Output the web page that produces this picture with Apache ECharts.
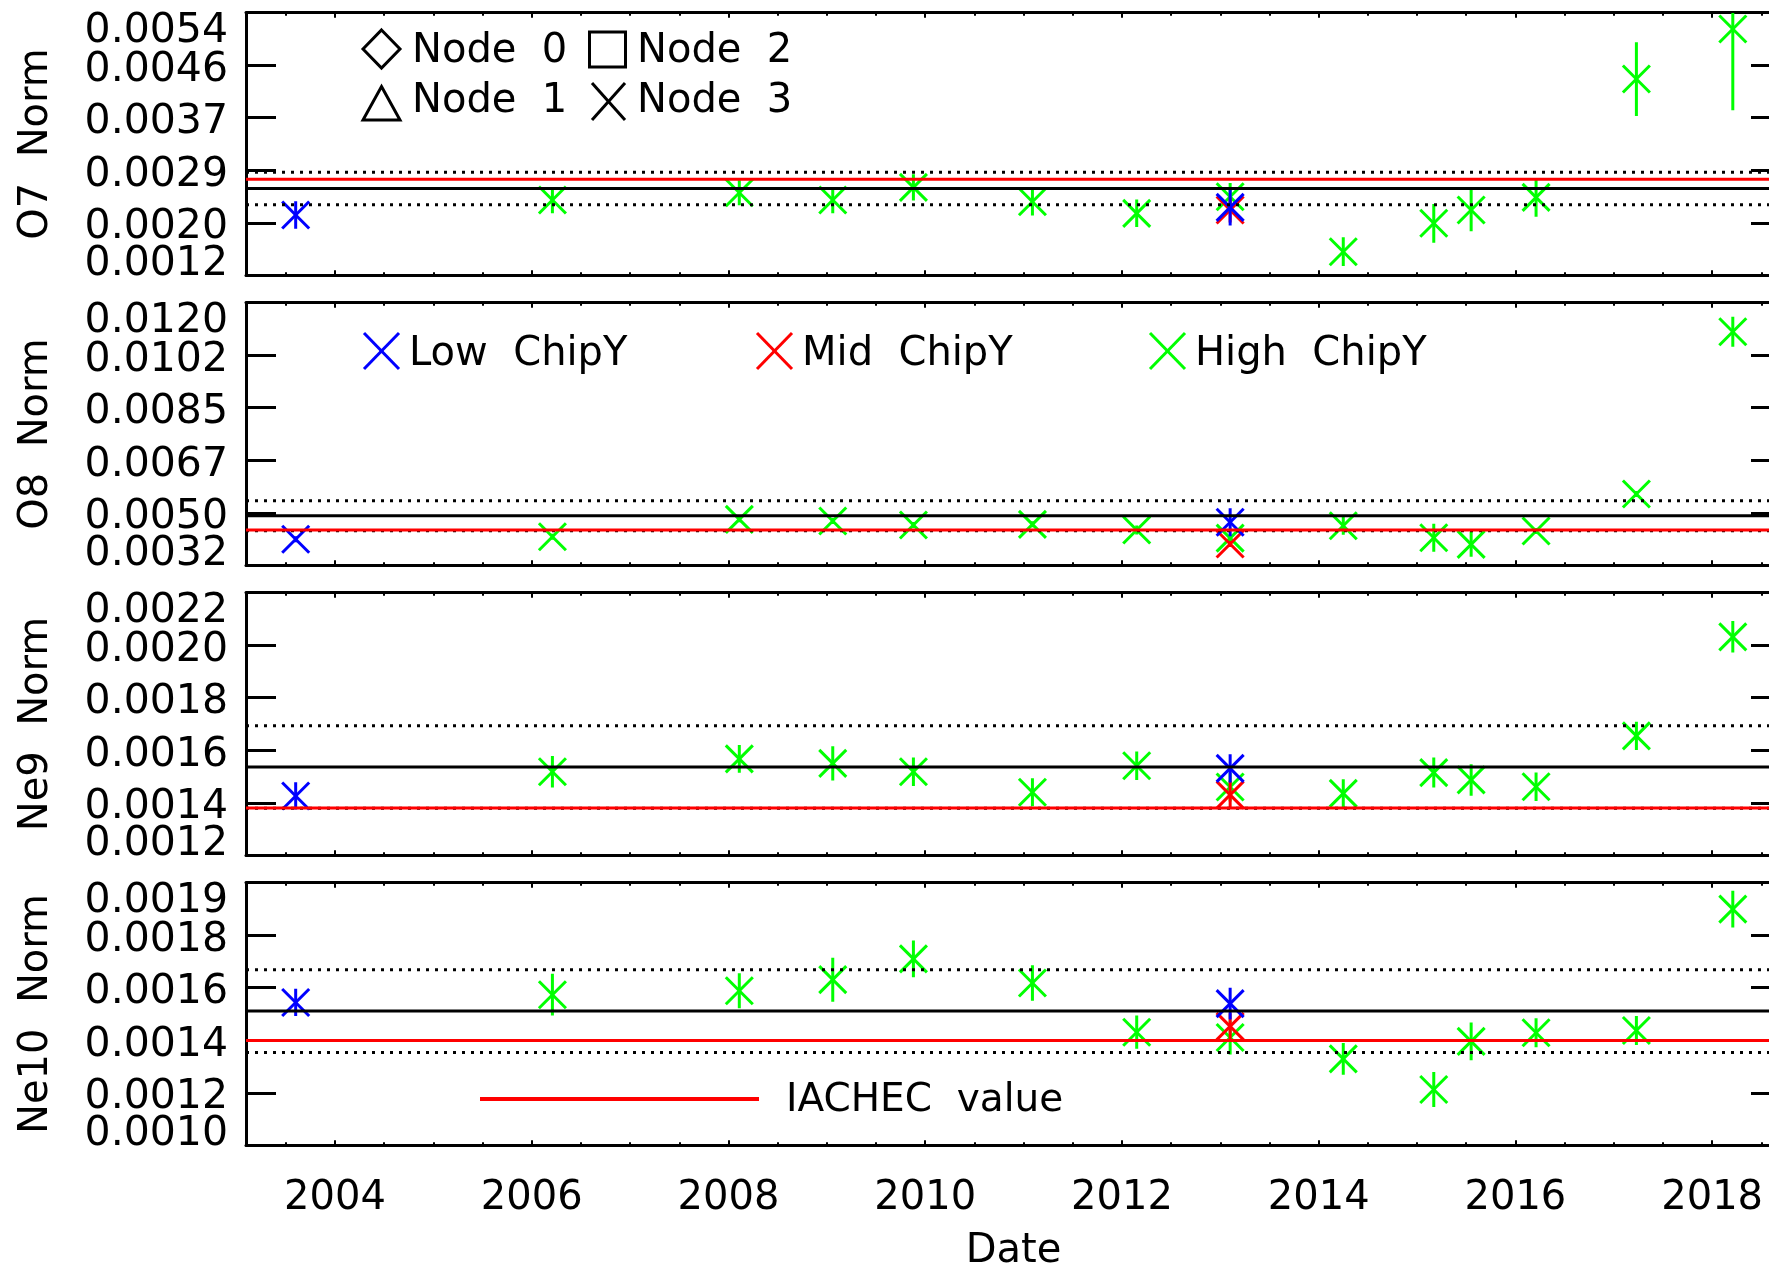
<!DOCTYPE html>
<html>
<head>
<meta charset="utf-8">
<script src="https://cdn.jsdelivr.net/npm/echarts@6/dist/echarts.min.js"></script>
<style>
  html, body { margin: 0; padding: 0; background: #fff; }
  #chart { width: 1769px; height: 1266px; }
</style>
</head>
<body>
<div id="chart"></div>
<script>
// ---- Observation dates (decimal years) per ChipY group ----
const lowDates  = [2003.60, 2013.10];
const midDates  = [2013.10];
const highDates = [2006.21, 2008.11, 2009.06, 2009.88, 2011.09, 2012.15, 2013.10,
                   2014.25, 2015.17, 2015.55, 2016.21, 2017.23, 2018.21];

// ---- Line normalisations and 1-sigma errors ----
// O7
const o7Low      = [0.002164, 0.002287];
const o7LowErr   = [0.00022, 0.00029];
const o7Mid      = [0.002244];
const o7MidErr   = [0.0002];
const o7High     = [0.002404, 0.002521, 0.002404, 0.002607, 0.002377, 0.002191, 0.002457,
                    0.001577, 0.002032, 0.002244, 0.002447, 0.004339, 0.005139];
const o7HighErr  = [0.00021, 0.0002, 0.00021, 0.00021, 0.00022, 0.00022, 0.00022,
                    0.00023, 0.00031, 0.00034, 0.00031, 0.00059, 0.0013];
// O8
const o8Low      = [0.004071, 0.004641];
const o8LowErr   = [0.0001, 0.00047];
const o8Mid      = [0.003914];
const o8MidErr   = [0.0001];
const o8High     = [0.004158, 0.004741, 0.004684, 0.00455, 0.004572, 0.004382, 0.00411,
                    0.004527, 0.004125, 0.003903, 0.004349, 0.005589, 0.011028];
const o8HighErr  = [0.0001, 0.0001, 0.0001, 0.0001, 0.0001, 0.00015, 0.0001,
                    0.0003, 0.00047, 0.00042, 0.0001, 0.0001, 0.0005];
// Ne9
const ne9Low     = [0.001426, 0.001531];
const ne9LowErr  = [0.000052, 0.000054];
const ne9Mid     = [0.00143];
const ne9MidErr  = [0.000054];
const ne9High    = [0.001518, 0.001567, 0.00155, 0.001518, 0.00144, 0.001541, 0.00146,
                    0.001436, 0.001515, 0.001487, 0.001461, 0.001655, 0.002032];
const ne9HighErr = [0.00006, 0.000053, 0.000065, 0.000054, 0.000053, 0.000054, 0.000055,
                    0.000054, 0.000057, 0.00006, 0.000054, 0.000054, 0.00006];
// Ne10
const ne10Low     = [0.00151, 0.001506];
const ne10LowErr  = [0.000049, 0.000057];
const ne10Mid     = [0.001424];
const ne10MidErr  = [0.000047];
const ne10High    = [0.001538, 0.001552, 0.001592, 0.001667, 0.00158, 0.001403, 0.001384,
                     0.001307, 0.001197, 0.00137, 0.001401, 0.001409, 0.001846];
const ne10HighErr = [0.000075, 0.000063, 0.000079, 0.000066, 0.000064, 0.00006, 0.000061,
                     0.000057, 0.000063, 0.000068, 0.000052, 0.000052, 0.000066];

// ---- Reference levels per panel: weighted mean, spread, IACHEC value ----
const meanNorm   = [0.002588, 0.004862, 0.001536, 0.001479];
const spreadNorm = [0.000259, 0.000503, 0.000157, 0.000149];
const iachecNorm = [0.002735, 0.004382, 0.00138, 0.001373];

// ---- Axis settings ----
const panelNames = ['O7  Norm', 'O8  Norm', 'Ne9  Norm', 'Ne10  Norm'];
const yMin  = [0.0012, 0.0032, 0.0012, 0.000996];
const yMax  = [0.0054, 0.0120, 0.0022, 0.001941];
const yStep = [0.00084, 0.00176, 0.0002, 0.000189];
const dateMin = 2003.095;
const dateMax = 2018.70;

const panels = [
  { low: [o7Low, o7LowErr],   mid: [o7Mid, o7MidErr],   high: [o7High, o7HighErr] },
  { low: [o8Low, o8LowErr],   mid: [o8Mid, o8MidErr],   high: [o8High, o8HighErr] },
  { low: [ne9Low, ne9LowErr], mid: [ne9Mid, ne9MidErr], high: [ne9High, ne9HighErr] },
  { low: [ne10Low, ne10LowErr], mid: [ne10Mid, ne10MidErr], high: [ne10High, ne10HighErr] }
];

const FONT = 'DejaVu Sans';
const BLUE = '#0000ff', RED = '#ff0000', GREEN = '#00ff00', BLACK = '#000000';
const gridTops = [12.7, 302.7, 592.7, 882.7];
const gridH = 262.6;

function toPoints(dates, pair) {
  return dates.map((d, i) => [d, pair[0][i], pair[1][i]]);
}

// X marker with a vertical error bar, clipped to the plot frame
function crossRenderer(color) {
  return function (params, api) {
    const x = api.value(0), y = api.value(1), e = api.value(2);
    const c = api.coord([x, y]);
    const up = api.coord([x, y + e]);
    const dn = api.coord([x, y - e]);
    const cs = params.coordSys;
    const y0 = Math.max(cs.y, up[1]);
    const y1 = Math.min(cs.y + cs.height, dn[1]);
    const h = 13.5;
    const st = { stroke: color, lineWidth: 3 };
    return {
      type: 'group',
      children: [
        { type: 'line', shape: { x1: c[0] - h, y1: c[1] - h, x2: c[0] + h, y2: c[1] + h }, style: st },
        { type: 'line', shape: { x1: c[0] - h, y1: c[1] + h, x2: c[0] + h, y2: c[1] - h }, style: st },
        { type: 'line', shape: { x1: c[0], y1: y0, x2: c[0], y2: y1 }, style: st }
      ]
    };
  };
}

// End-of-range labels are pulled inside the frame
function endLabelFormatter(min, max) {
  return function (v) {
    const s = v.toFixed(4);
    if (Math.abs(v - max) < 1e-9) return '{hi|' + s + '}';
    return '{lo|' + s + '}';
  };
}

const labelBase = { fontFamily: FONT, fontSize: 41, color: BLACK };

const grid = [], xAxis = [], yAxis = [], series = [];

panels.forEach((p, i) => {
  grid.push({ left: 246, top: gridTops[i], width: 1535, height: gridH, outerBoundsMode: 'none' });

  const isLast = i === panels.length - 1;
  const xCommon = {
    type: 'value', gridIndex: i, min: dateMin, max: dateMax, splitNumber: 8,
    axisLine: { show: true, onZero: false, lineStyle: { color: BLACK, width: 3 } },
    axisTick: { show: true, inside: true, length: 5, lineStyle: { color: BLACK, width: 2 } },
    minorTick: { show: true, splitNumber: 4, length: 3, lineStyle: { color: BLACK, width: 2 } },
    splitLine: { show: false }, minorSplitLine: { show: false }
  };
  xAxis.push(Object.assign({}, xCommon, {
    position: 'bottom',
    axisLabel: {
      show: isLast, fontFamily: FONT, fontSize: 40, color: BLACK, margin: 33,
      showMinLabel: false, showMaxLabel: false,
      formatter: v => (Number.isInteger(v) ? String(v) : '')
    },
    name: isLast ? 'Date' : '', nameLocation: 'middle', nameGap: 86, nameMoveOverlap: false,
    nameTextStyle: { fontFamily: FONT, fontSize: 40, color: BLACK }
  }));
  xAxis.push(Object.assign({}, xCommon, { position: 'top', axisLabel: { show: false } }));

  const yCommon = {
    type: 'value', gridIndex: i, min: yMin[i], max: yMax[i], interval: yStep[i],
    axisLine: { show: true, onZero: false, lineStyle: { color: BLACK, width: 3 } },
    axisTick: { show: true, inside: true, length: 30, lineStyle: { color: BLACK, width: 3 } },
    splitLine: { show: false }
  };
  // left frame with inner tick labels
  yAxis.push(Object.assign({}, yCommon, {
    position: 'left',
    axisLabel: {
      show: true, margin: 18, showMinLabel: false, showMaxLabel: false,
      formatter: v => '{md|' + v.toFixed(4) + '}',
      rich: { md: Object.assign({ padding: [10, 0, 0, 0] }, labelBase) }
    },
    name: panelNames[i], nameLocation: 'middle', nameRotate: 90, nameGap: 189, nameMoveOverlap: false,
    nameTextStyle: { fontFamily: FONT, fontSize: 40, color: BLACK }
  }));
  // right frame
  yAxis.push(Object.assign({}, yCommon, { position: 'right', axisLabel: { show: false } }));
  // labels of the range ends
  yAxis.push({
    type: 'value', gridIndex: i, min: yMin[i], max: yMax[i], interval: yStep[i], position: 'left',
    axisLine: { show: false }, axisTick: { show: false }, splitLine: { show: false },
    axisLabel: {
      show: true, margin: 18, showMinLabel: true, showMaxLabel: true,
      customValues: [yMin[i], yMax[i]],
      formatter: endLabelFormatter(yMin[i], yMax[i]),
      rich: {
        hi: Object.assign({ padding: [38, 0, 0, 0] }, labelBase),
        lo: Object.assign({ padding: [0, 0, 21, 0] }, labelBase)
      }
    }
  });

  const groups = [
    { pts: toPoints(highDates, p.high), color: GREEN, z: 2 },
    { pts: toPoints(midDates, p.mid), color: RED, z: 3 },
    { pts: toPoints(lowDates, p.low), color: BLUE, z: 4 }
  ];
  groups.forEach(g => {
    series.push({
      type: 'custom', xAxisIndex: 2 * i, yAxisIndex: 3 * i, z: g.z, clip: true, silent: true,
      dimensions: ['date', 'norm', 'err'],
      encode: { x: 0, y: 1 },
      renderItem: crossRenderer(g.color),
      data: g.pts
    });
  });

  // Horizontal reference levels spanning the whole date range
  const level = (v, color, type) => ({
    type: 'line', xAxisIndex: 2 * i, yAxisIndex: 3 * i, z: 5, silent: true,
    symbol: 'none', showSymbol: false, clip: true,
    emphasis: { disabled: true },
    lineStyle: { color: color, width: 3, type: type, cap: 'butt' },
    data: [[dateMin, v], [dateMax, v]]
  });
  series.push(level(meanNorm[i], BLACK, 'solid'));
  series.push(level(meanNorm[i] + spreadNorm[i], BLACK, [3, 6]));
  series.push(level(meanNorm[i] - spreadNorm[i], BLACK, [3, 6]));
  series.push(level(iachecNorm[i], RED, 'solid'));
});

// ---- Legend drawings ----
const legendText = (x, y, text, size) => ({
  type: 'text', x: x, y: y, z: 10,
  style: { text: text, fontFamily: FONT, fontSize: size || 40, fill: BLACK, align: 'left', verticalAlign: 'middle' }
});
const cross = (cx, cy, hw, hh, color) => ([
  { type: 'line', z: 10, shape: { x1: cx - hw, y1: cy - hh, x2: cx + hw, y2: cy + hh }, style: { stroke: color, lineWidth: 3 } },
  { type: 'line', z: 10, shape: { x1: cx - hw, y1: cy + hh, x2: cx + hw, y2: cy - hh }, style: { stroke: color, lineWidth: 3 } }
]);
const outline = { stroke: BLACK, lineWidth: 3, fill: 'none' };

const graphic = [
  { type: 'polygon', z: 10, shape: { points: [[381.5, 30], [400, 49], [381.5, 68], [363, 49]] }, style: outline },
  legendText(412, 52, 'Node  0'),
  { type: 'rect', z: 10, shape: { x: 589.5, y: 32, width: 36, height: 35 }, style: outline },
  legendText(637, 52, 'Node  2'),
  { type: 'polygon', z: 10, shape: { points: [[381.5, 86.5], [400, 120], [363, 120]] }, style: outline },
  legendText(412, 102, 'Node  1'),
  ...cross(608.5, 101.5, 16.5, 18.5, BLACK),
  legendText(637, 102, 'Node  3'),

  ...cross(381.5, 351, 17.5, 18, BLUE),
  legendText(409, 355, 'Low  ChipY'),
  ...cross(774.5, 351, 17.5, 18, RED),
  legendText(802, 355, 'Mid  ChipY'),
  ...cross(1167.5, 351, 17.5, 18, GREEN),
  legendText(1195, 355, 'High  ChipY'),

  { type: 'line', z: 10, shape: { x1: 480, y1: 1099, x2: 759, y2: 1099 }, style: { stroke: RED, lineWidth: 4 } },
  legendText(786, 1101, 'IACHEC  value', 39)
];

const chart = echarts.init(document.getElementById('chart'), null, { renderer: 'canvas' });
chart.setOption({
  backgroundColor: '#ffffff',
  animation: false,
  grid: grid,
  xAxis: xAxis,
  yAxis: yAxis,
  series: series,
  graphic: graphic
});
</script>
</body>
</html>
